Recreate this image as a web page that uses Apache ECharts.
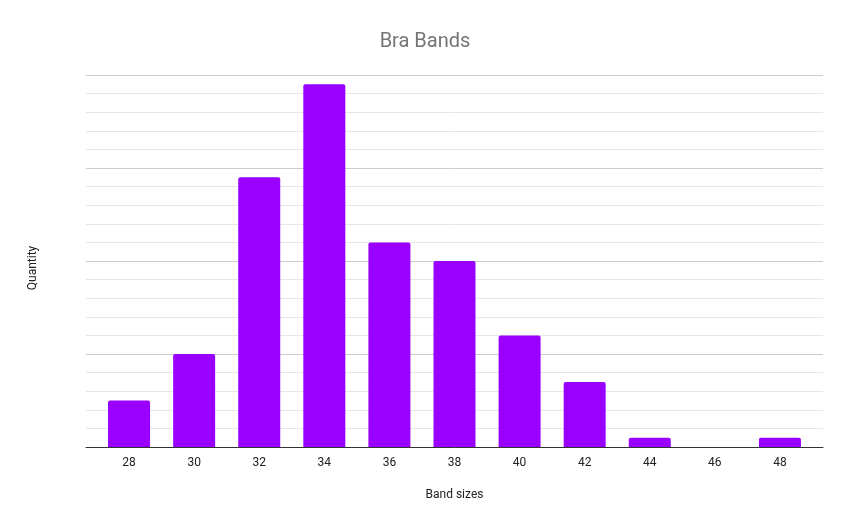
<!DOCTYPE html>
<html>
<head>
<meta charset="utf-8">
<script src="https://cdn.jsdelivr.net/npm/echarts@6/dist/echarts.min.js"></script>
<style>html,body{margin:0;padding:0;background:#fff}#c{width:850px;height:526px}</style>
</head>
<body>
<div id="c"></div>
<script>
const categories = ['28','30','32','34','36','38','40','42','44','46','48'];
const quantities = [5, 10, 29, 39, 22, 20, 12, 7, 1, 0, 1];

const font = 'Roboto, Arial, sans-serif';
const chart = echarts.init(document.getElementById('c'));
chart.setOption({
  animation: false,
  backgroundColor: '#ffffff',
  title: {
    text: 'Bra Bands',
    left: 'center',
    top: 27,
    textStyle: { fontFamily: font, fontSize: 20, fontWeight: 'normal', color: '#757575' }
  },
  grid: [
    { left: 86, right: 27, top: 75, bottom: 79 },
    { left: 96.5, right: 37.5, top: 75, bottom: 79 }
  ],
  xAxis: [
    {
      gridIndex: 0,
      type: 'value',
      min: 0, max: 1,
      name: 'Band sizes',
      nameLocation: 'middle',
      nameGap: 42,
      nameTextStyle: { fontFamily: font, fontSize: 12, color: '#222' },
      axisLine: { show: true, onZero: false, lineStyle: { color: '#333', width: 1 } },
      axisTick: { show: false },
      axisLabel: { show: false },
      splitLine: { show: false }
    },
    {
      gridIndex: 1,
      type: 'category',
      data: categories,
      axisLine: { show: false },
      axisTick: { show: false },
      axisLabel: { fontFamily: font, fontSize: 12, color: '#222', margin: 10 }
    }
  ],
  yAxis: [
    {
      gridIndex: 0,
      type: 'value',
      min: 0, max: 40, interval: 10,
      name: 'Quantity',
      nameLocation: 'middle',
      nameGap: 47,
      nameRotate: 90,
      nameTextStyle: { fontFamily: font, fontSize: 12, color: '#222', padding: [0, 14, 0, 0] },
      axisLine: { show: false },
      axisTick: { show: false },
      axisLabel: { show: false },
      splitLine: { lineStyle: { color: '#cccccc', width: 1 } },
      minorTick: { show: false, splitNumber: 5 },
      minorSplitLine: { show: true, lineStyle: { color: '#e6e6e6', width: 1 } }
    },
    {
      gridIndex: 1,
      type: 'value',
      min: 0, max: 40, interval: 10,
      axisLine: { show: false },
      axisTick: { show: false },
      axisLabel: { show: false },
      splitLine: { show: false }
    }
  ],
  series: [{
    type: 'bar',
    xAxisIndex: 1,
    yAxisIndex: 1,
    data: quantities,
    barWidth: 42,
    itemStyle: { color: '#9900ff', borderRadius: [2, 2, 0, 0] }
  }]
});
</script>
</body>
</html>
